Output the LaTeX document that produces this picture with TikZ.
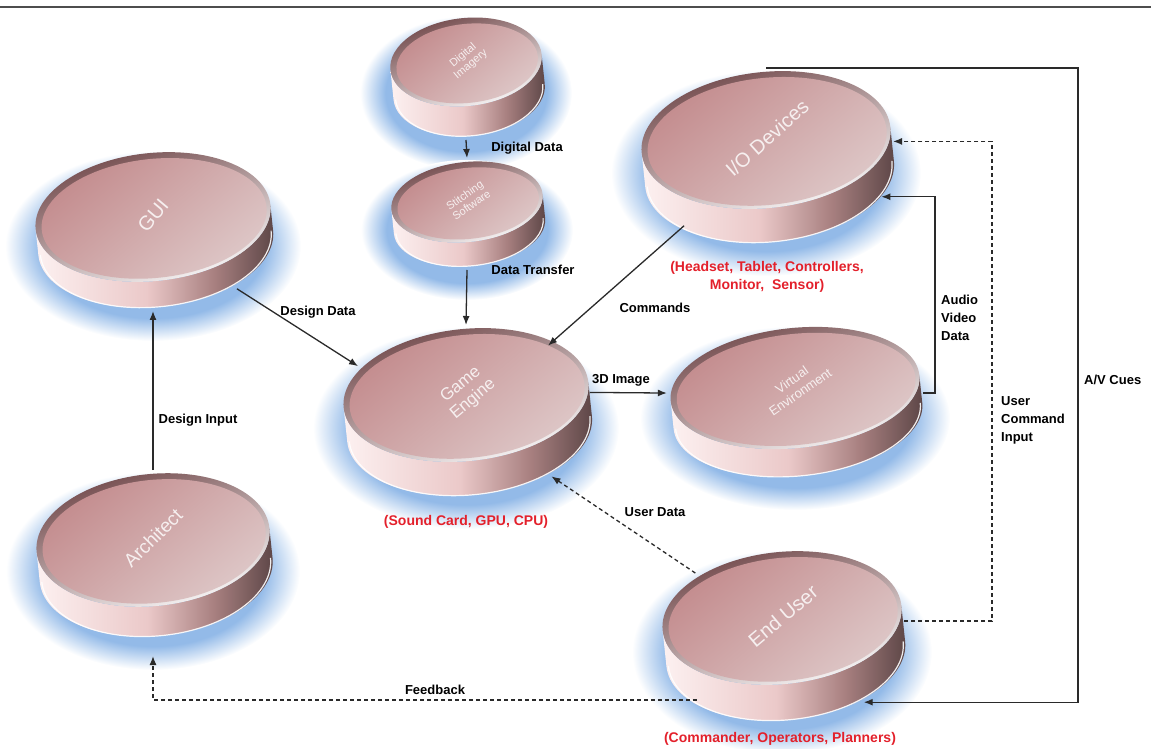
\documentclass[tikz,border=0pt]{standalone}
\usepackage{fontspec}
\setmainfont{Liberation Sans}
\usetikzlibrary{arrows.meta,shapes.geometric,calc}
\definecolor{faceA}{HTML}{C38B8D}
\definecolor{faceB}{HTML}{DEC8C8}
\definecolor{rimA}{HTML}{6E4446}
\definecolor{sideA}{HTML}{FFF6F6}
\definecolor{sideB}{HTML}{EBC9C9}
\definecolor{sideC}{HTML}{A88080}
\definecolor{sideD}{HTML}{3B2C2D}
\definecolor{glowC}{HTML}{93BAE8}
\definecolor{lineC}{HTML}{2A2A2A}
\definecolor{redT}{HTML}{E3202B}
\definecolor{topRule}{HTML}{4D4D4D}
\pgfdeclarehorizontalshading{diskside}{100bp}{color(0bp)=(sideA); color(22bp)=(sideA); color(48bp)=(sideB); color(62bp)=(sideC); color(80bp)=(sideD); color(100bp)=(sideD)}
\pgfdeclareradialshading{diskglow}{\pgfpoint{0bp}{0bp}}{color(0bp)=(glowC); color(19bp)=(glowC); color(25bp)=(white); color(50bp)=(white)}
\newcommand\diskglow[5]{% cx cy rx ry h
  \shade[shading=diskglow] (#1,{#2-#5*0.5-16}) ellipse [x radius={#3+30}, y radius={#4+#5*0.5+18}];}
\newcommand\diskbody[6]{% name cx cy rx ry h
  \begin{scope}[shift={(#2,#3)},rotate=6]
    \shade[shading=diskside] (-#4,0) -- (-#4,-#6) arc[start angle=180,end angle=360,x radius=#4,y radius=#5] -- (#4,0) arc[start angle=0,end angle=-180,x radius=#4,y radius=#5] -- cycle;
    \draw[white,line width=1.2pt,opacity=0.9] ({-#4+2},{-#6}) arc[start angle=180,end angle=360,x radius={#4-2},y radius=#5];
    \shade[top color=rimA, bottom color=white, shading angle=20] (0,0) ellipse [x radius=#4, y radius=#5];
    \shade[top color=faceA, bottom color=faceB, shading angle=40] (1,-1.5) ellipse [x radius={#4-5}, y radius={#5-4.5}];
  \end{scope}
  \node[diskshape, minimum width={2*#4pt+8pt}, minimum height={2*#5pt+#6pt+8pt}] (#1) at (#2,{#3-#6*0.5}) {};}
\begin{document}
\begin{tikzpicture}[x=1pt,y=1pt,
  diskshape/.style={ellipse, inner sep=0pt, outer sep=0pt, draw=none},
  arr/.style={draw=lineC, line width=1.3pt, -{Latex[length=9pt,width=7pt]}},
  dsh/.style={arr, dash pattern=on 4pt off 3pt},
  lbl/.style={font=\bfseries\fontsize{13}{18}\selectfont, text=black, inner sep=1pt},
  redlbl/.style={font=\bfseries\fontsize{14}{18}\selectfont, text=redT, align=center, inner sep=1pt},
  dtext/.style={text=white, text opacity=0.82, align=center, inner sep=0pt}]
\useasboundingbox (0,0) rectangle (1151,748);
\draw[topRule, line width=1.5pt] (0,741) -- (1151,741);
% glows
\diskglow{466}{686}{76}{44}{30}
\diskglow{467}{546}{76}{40}{24}
\diskglow{153}{531}{118}{64}{26}
\diskglow{153}{208}{117}{66}{30}
\diskglow{466}{353}{123}{66}{34}
\diskglow{766}{608}{125}{68}{34}
\diskglow{795}{360}{125}{60}{28}
\diskglow{782}{130}{120}{66}{36}
% disks
\diskbody{di}{466}{686}{76}{44}{30}
\diskbody{ss}{467}{546}{76}{40}{24}
\diskbody{gui}{153}{531}{118}{64}{26}
\diskbody{arch}{153}{208}{117}{66}{30}
\diskbody{ge}{466}{353}{123}{66}{34}
\diskbody{io}{766}{608}{125}{68}{34}
\diskbody{ve}{795}{360}{125}{60}{28}
\diskbody{eu}{782}{130}{120}{66}{36}
% disk texts
\node[dtext, rotate=40, font=\fontsize{11}{12}\selectfont] (t-di) at (467,688) {Digital\\Imagery};
\node[dtext, rotate=35, font=\fontsize{11}{12}\selectfont] (t-ss) at (468,548) {Stitching\\Software};
\node[dtext, rotate=50, font=\fontsize{20}{22}\selectfont] (t-gui) at (153,533) {GUI};
\node[dtext, rotate=45, font=\fontsize{19}{21}\selectfont] (t-arch) at (153,210) {Architect};
\node[dtext, rotate=40, font=\fontsize{17}{19}\selectfont] (t-ge) at (467,356) {Game\\Engine};
\node[dtext, rotate=42, font=\fontsize{20}{22}\selectfont] (t-io) at (767,610) {I/O Devices};
\node[dtext, rotate=35, font=\fontsize{13}{15}\selectfont] (t-ve) at (796,362) {Virtual\\Environment};
\node[dtext, rotate=40, font=\fontsize{20}{22}\selectfont] (t-eu) at (783,132) {End User};
% helper coordinates
\coordinate (avd) at (935,430);
\coordinate (uci) at (992,328);
\coordinate (avc) at (1078,368);
% connectors
\draw[arr] (di.south) -- (ss.north);
\draw[arr] (ss.south) -- (ge.north);
\draw[arr] (gui.-35) -- (ge.157);
\draw[arr] (io.-140) -- (ge.39);
\draw[arr] (ge.9) -- (ve.176);
\draw[arr] (ve.4) -| (avd) |- (io.-19);
\draw[dsh] (eu.144) -- (ge.-37);
\draw[dsh] (eu.7) -| (uci) |- (io.7);
\draw[arr] (io.north) -| (avc) |- (eu.-39);
\draw[arr] (arch.north) -- (gui.south);
\draw[dsh] (eu.-143) -| ([yshift=-16pt]arch.south);
% labels
\node[lbl] (l-dd) at (527,600) {Digital Data};
\node[lbl] (l-dt) at (533,478) {Data Transfer};
\node[lbl] (l-des) at (318,436) {Design Data};
\node[lbl] (l-cmd) at (655,440) {Commands};
\node[lbl] (l-3d) at (621,368) {3D Image};
\node[lbl, anchor=west, align=left] (l-avd) at (940,430) {Audio\\Video\\Data};
\node[lbl] (l-ud) at (655,236) {User Data};
\node[lbl, anchor=west, align=left] (l-uci) at (1000,328) {User\\Command\\Input};
\node[lbl, anchor=west] (l-av) at (1083,368) {A/V Cues};
\node[lbl] (l-din) at (198,328) {Design Input};
\node[lbl] (l-fb) at (435,58) {Feedback};
\node[redlbl] (r-io) at (767,471) {(Headset, Tablet, Controllers,\\Monitor,\ \ Sensor)};
\node[redlbl] (r-ge) at (466,226) {(Sound Card, GPU, CPU)};
\node[redlbl] (r-eu) at (780,9) {(Commander, Operators, Planners)};
\end{tikzpicture}
\end{document}
